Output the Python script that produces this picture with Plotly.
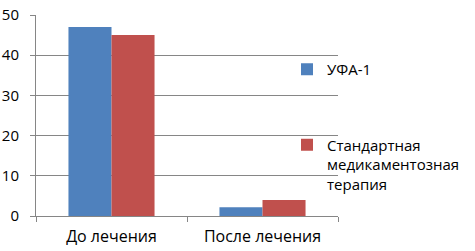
import plotly.graph_objects as go

categories = ["До лечения", "После лечения"]
series_names = ["УФА-1", "Стандартная<br>медикаментозная<br>терапия"]
ufa_values = [47, 2.2]
standard_values = [45, 4]
y_ticks = [0, 10, 20, 30, 40, 50]

colors = ["#4F81BD", "#C0504D"]
font_family = "Open Sans, Liberation Sans, sans-serif"

fig = go.Figure()
fig.add_trace(go.Bar(x=categories, y=ufa_values, name=series_names[0],
                     marker=dict(color=colors[0], line=dict(width=0)),
                     legendgroup="a"))
fig.add_trace(go.Bar(x=categories, y=standard_values, name=series_names[1],
                     marker=dict(color=colors[1], line=dict(width=0)),
                     legendgroup="b"))

fig.update_layout(
    width=475, height=251,
    margin=dict(l=36, r=137, t=15, b=35, autoexpand=False),
    paper_bgcolor="white", plot_bgcolor="white",
    font=dict(family=font_family, size=15, color="#000000"),
    barmode="group", bargap=0.43, bargroupgap=0,
    showlegend=True,
    legend=dict(xref="container", x=287 / 475, xanchor="left",
                yref="container", y=1 - 53 / 251, yanchor="top",
                bgcolor="rgba(0,0,0,0)", traceorder="grouped",
                tracegroupgap=53, font=dict(size=15),
                itemwidth=30, valign="top", maxheight=251),
    xaxis=dict(showline=True, linecolor="#868686", linewidth=1,
               ticks="outside", tickson="boundaries", ticklen=5,
               tickcolor="#868686", showgrid=False,
               tickfont=dict(size=16), ticklabelstandoff=6),
    yaxis=dict(range=[0, 50], tickvals=y_ticks, showline=True,
               linecolor="#868686", linewidth=1, ticks="outside",
               ticklen=5, tickcolor="#868686", showgrid=True,
               gridcolor="#868686", gridwidth=1, zeroline=False,
               ticklabelstandoff=8),
)

fig.write_html("out.html", config={"displayModeBar": False},
               post_script="document.body.style.margin='0';document.body.style.overflow='hidden';")
